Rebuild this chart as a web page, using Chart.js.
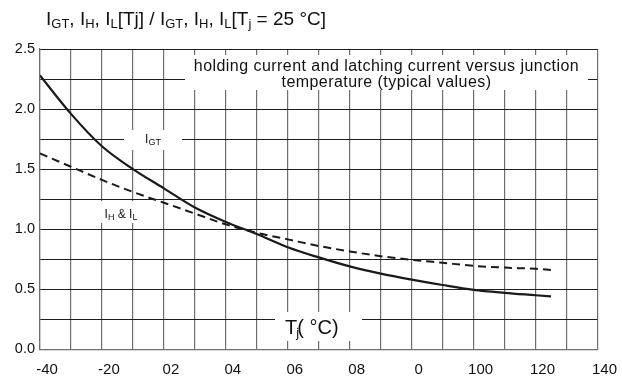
<!DOCTYPE html>
<html><head><meta charset="utf-8">
<script src="https://cdn.jsdelivr.net/npm/chart.js@4"></script>
<style>
html,body{margin:0;padding:0;background:#fff}
#wrap{width:622px;height:380px;position:relative;font-family:"Liberation Sans",Arial,sans-serif;color:#111}
#wrap canvas{position:absolute;left:0;top:0}
.lbl{position:absolute;white-space:nowrap}
.sb{position:relative}
</style>
</head><body>
<div id="wrap">
  <canvas id="c" width="622" height="380"></canvas>
  <div class="lbl" id="yTitle" style="left:46px;top:9px;font-size:19px;line-height:19px"></div>
  <div class="lbl" id="boxTitle" style="left:185px;top:58px;width:403px;text-align:center;font-size:16px;line-height:16px;letter-spacing:0.45px"></div>
  <div class="lbl" id="lblGT" style="left:124px;top:133px;width:58px;text-align:center;font-size:12px;line-height:12px"></div>
  <div class="lbl" id="lblHL" style="left:100px;top:208px;width:42px;text-align:center;font-size:12px;line-height:12px"></div>
  <div class="lbl" id="xTitle" style="left:285px;top:317px;font-size:20px;line-height:20px"></div>
</div>
<script>
// ---- data ----
const temps = [-40,-30,-20,-10,0,10,20,30,40,50,60,70,80,90,100,110,120,125];
const iGT   = [2.28,1.96,1.69,1.50,1.34,1.18,1.06,0.96,0.85,0.765,0.69,0.63,0.58,0.535,0.495,0.47,0.45,0.44];
const iHL   = [1.63,1.52,1.41,1.31,1.22,1.13,1.04,0.97,0.915,0.86,0.815,0.775,0.745,0.72,0.695,0.68,0.67,0.66];
const xTickValues = [-40,-20,0,20,40,60,80,100,120,140];
const xTickLabels = ['-40','-20','02','04','06','08','0','100','120','140'];
const yTickLabels = ['0.0','0.5','1.0','1.5','2.0','2.5'];
const titleLine1 = 'holding current and latching current versus junction';
const titleLine2 = 'temperature (typical values)';

const FONT = '"Liberation Sans", Arial, sans-serif';

// ---- text labels as real DOM text ----
function sub(t, size, dy) { return '<span class="sb" style="font-size:' + size + 'px;top:' + dy + 'px">' + t + '</span>'; }
document.getElementById('yTitle').innerHTML =
  'I' + sub('GT',13,3) + ', I' + sub('H',13,3) + ', I' + sub('L',13,3) + '[Tj] / I' + sub('GT',13,3) +
  ', I' + sub('H',13,3) + ', I' + sub('L',13,3) + '[T' + sub('j',13,3) + ' = 25 °C]';
document.getElementById('boxTitle').innerHTML = titleLine1 + '<br>' + titleLine2;
document.getElementById('lblGT').innerHTML = 'I' + sub('GT',9,1.5);
document.getElementById('lblHL').innerHTML = 'I' + sub('H',9,1.5) + ' &amp; I' + sub('L',9,1.5);
document.getElementById('xTitle').innerHTML =
  'T<span class="sb" style="font-size:13px;top:3px;margin-left:-1px;margin-right:-1.9px">j</span>( °C)';

// white boxes behind the labels (drawn over the grid, under the curves)
const boxes = {
  id: 'boxes',
  beforeDatasetsDraw(chart) {
    const c = chart.ctx;
    c.save();
    c.fillStyle = '#fff';
    c.fillRect(185, 55, 403, 35);
    c.fillRect(124, 130, 58, 20);
    c.fillRect(100, 201, 42, 22);
    c.fillRect(275, 312, 87, 29);
    c.restore();
  }
};

const ctx = document.getElementById('c').getContext('2d');
new Chart(ctx, {
  type: 'line',
  data: {
    datasets: [
      { label: 'IGT', data: temps.map((t, i) => ({x: t, y: iGT[i]})),
        borderColor: '#1a1a1a', borderWidth: 2.2, pointRadius: 0, cubicInterpolationMode: 'monotone' },
      { label: 'IH', data: temps.map((t, i) => ({x: t, y: iHL[i]})),
        borderColor: '#1a1a1a', borderWidth: 2, borderDash: [8, 5], pointRadius: 0, cubicInterpolationMode: 'monotone' }
    ]
  },
  options: {
    responsive: false, animation: false, devicePixelRatio: 1,
    layout: { padding: { top: 49, right: 21, left: 0, bottom: 0 } },
    plugins: { legend: { display: false }, tooltip: { enabled: false } },
    scales: {
      x: {
        type: 'linear', min: -40, max: 140,
        afterFit(s) { s.height = 30.7; },
        grid: { color: '#6e6e6e', lineWidth: 1.2, drawTicks: false },
        border: { color: '#6e6e6e', width: 1.2 },
        ticks: {
          stepSize: 10, autoSkip: false, maxRotation: 0, padding: 12, labelOffset: 7,
          color: '#111', font: { family: FONT, size: 15 },
          callback(v) { const i = xTickValues.indexOf(v); return i >= 0 ? xTickLabels[i] : ''; }
        }
      },
      y: {
        type: 'linear', min: 0, max: 2.5,
        afterFit(s) { s.width = 40; },
        grid: { color: '#1e1e1e', lineWidth: 1, drawTicks: false },
        border: { color: '#6e6e6e', width: 1.2 },
        ticks: {
          stepSize: 0.25, autoSkip: false, padding: 5,
          color: '#111', font: { family: FONT, size: 14.5 },
          callback(v, i) { return i % 2 === 0 ? yTickLabels[i / 2] : ''; }
        }
      }
    }
  },
  plugins: [boxes]
});
</script>
</body></html>
